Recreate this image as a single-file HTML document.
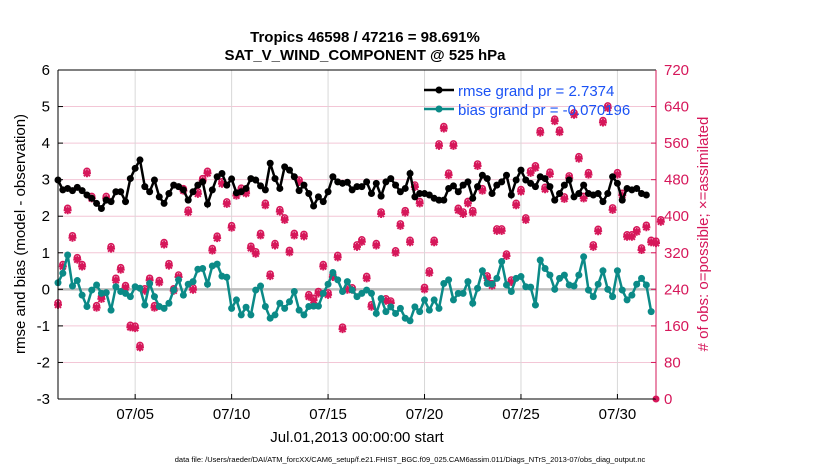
<!DOCTYPE html>
<html><head><meta charset="utf-8"><style>
body{margin:0;background:#fff;width:830px;height:470px;overflow:hidden}
svg text{font-family:"Liberation Sans",Arial,sans-serif}
</style></head><body>
<svg id="chart" width="830" height="470" xmlns="http://www.w3.org/2000/svg">
<g id="grid"></g>
<g id="series"></g>
<g id="axes"></g>
<text x="365" y="42" text-anchor="middle" font-size="15" font-weight="bold">Tropics 46598 / 47216 = 98.691%</text>
<text x="365" y="60" text-anchor="middle" font-size="15" font-weight="bold">SAT_V_WIND_COMPONENT @ 525 hPa</text>
<text transform="translate(25,234) rotate(-90)" text-anchor="middle" font-size="15">rmse and bias (model - observation)</text>
<text transform="translate(708,234) rotate(-90)" text-anchor="middle" font-size="15" fill="#d6175a"># of obs: o=possible; ×=assimilated</text>
<text x="357" y="442" text-anchor="middle" font-size="15">Jul.01,2013 00:00:00 start</text>
<text x="410" y="462" text-anchor="middle" font-size="7.5">data file: /Users/raeder/DAI/ATM_forcXX/CAM6_setup/f.e21.FHIST_BGC.f09_025.CAM6assim.011/Diags_NTrS_2013-07/obs_diag_output.nc</text>
<g>
<line x1="424" y1="90" x2="454" y2="90" stroke="#000" stroke-width="2.5"/><circle cx="439" cy="90" r="3.5" fill="#000"/>
<text x="458" y="96" font-size="15" fill="#1a52f5">rmse grand pr = 2.7374</text>
<line x1="424" y1="109" x2="454" y2="109" stroke="#0b8a87" stroke-width="2.5"/><circle cx="439" cy="109" r="3.5" fill="#0b8a87"/>
<text x="458" y="115" font-size="15" fill="#1a52f5">bias grand pr = -0.070196</text>
</g>
</svg>
<script>
const rmse=[2.99,2.72,2.76,2.70,2.79,2.70,2.58,2.49,2.35,2.21,2.44,2.40,2.67,2.67,2.40,3.03,3.31,3.54,2.81,2.67,2.99,2.53,2.35,2.62,2.85,2.81,2.72,2.44,2.67,2.85,2.94,2.33,2.72,3.08,3.17,2.85,3.02,2.64,2.67,2.76,3.03,2.99,2.83,2.72,3.45,3.03,2.76,3.35,3.26,3.08,2.70,2.85,2.62,2.28,2.53,2.40,2.67,3.08,2.94,2.90,2.93,2.72,2.81,2.81,
2.94,2.62,2.90,2.55,2.94,3.03,2.85,2.67,2.76,3.17,2.53,2.62,2.62,2.58,2.49,2.44,2.44,2.76,2.83,2.67,2.85,2.94,2.49,2.81,3.12,3.03,2.62,2.85,2.94,3.12,2.58,2.99,3.26,2.99,2.90,2.81,3.08,3.03,2.81,2.44,2.62,2.85,2.99,2.53,2.62,2.85,2.62,2.58,2.62,2.40,2.62,3.08,2.90,2.44,2.76,2.72,2.76,2.62,2.58];
const bias=[0.18,0.44,0.94,0.09,0.24,-0.16,-0.47,-0.02,0.12,-0.11,-0.09,-0.57,0.07,-0.06,-0.11,-0.20,0.07,0.03,-0.43,0.16,-0.20,-0.47,-0.52,-0.38,-0.02,0.26,-0.16,0.14,0.21,0.55,0.57,0.14,0.64,0.69,0.36,0.33,-0.52,-0.29,-0.70,-0.49,-0.70,-0.02,0.09,-0.47,-0.79,-0.70,-0.38,-0.52,-0.34,-0.06,-0.57,-0.70,-0.47,-0.46,-0.46,-0.11,0.14,0.46,0.26,-0.06,0.21,-0.02,-0.20,-0.11,
-0.02,-0.11,-0.66,-0.25,-0.61,-0.48,-0.66,-0.52,-0.79,-0.86,-0.48,-0.61,-0.29,-0.57,-0.29,-0.52,0.16,0.26,-0.29,-0.11,-0.11,0.21,-0.38,0.03,0.51,0.16,0.14,0.30,0.76,0.12,-0.06,0.30,0.35,0.07,0.06,-0.43,0.80,0.57,0.39,0.00,0.30,0.39,0.12,0.09,0.39,0.89,-0.02,-0.20,0.14,0.51,0.00,-0.20,0.51,-0.02,-0.29,-0.16,0.14,0.30,0.12,-0.61];
const obs=[206,290,413,353,305,290,494,439,200,219,439,329,260,283,244,157,155,113,237,260,200,255,338,292,237,267,456,409,239,449,478,494,325,352,471,427,375,445,457,450,330,318,358,424,269,336,410,392,321,358,475,356,224,216,231,290,228,267,310,153,239,239,333,344,
264,202,336,405,215,210,320,379,408,343,464,428,240,276,343,554,592,490,554,413,405,428,408,510,456,265,248,368,368,313,256,424,454,392,495,506,583,459,492,608,584,438,484,622,526,439,491,333,367,605,637,414,491,446,355,355,366,326,376,343,341,388];
const xTicks=['07/05','07/10','07/15','07/20','07/25','07/30'];
const xTickDays=[4,9,14,19,24,29];
const yTicks=[-3,-2,-1,0,1,2,3,4,5,6];
const rTicks=[0,80,160,240,320,400,480,560,640,720];

const L=58,R=656,T=70,B=399;
const X=d=>L+(d/31)*(R-L);
const Y=v=>B-(v+3)/9*(B-T);
const YR=v=>B-v/720*(B-T);
const NS='http://www.w3.org/2000/svg';
function mk(tag,attrs,parent){const e=document.createElementNS(NS,tag);for(const k in attrs)e.setAttribute(k,attrs[k]);parent.appendChild(e);return e;}
const grid=document.getElementById('grid'),ser=document.getElementById('series'),ax=document.getElementById('axes');
yTicks.forEach(v=>{const l=mk('line',{x1:L,x2:R,y1:Y(v),y2:Y(v),stroke:'#f3c6d6','stroke-width':1},grid);


const t=mk('text',{x:L-8,y:Y(v)+5,'text-anchor':'end','font-size':15},ax);t.textContent=v;


mk('line',{x1:L,x2:L+5,y1:Y(v),y2:Y(v),stroke:'#000'},ax);});
xTickDays.forEach((d,i)=>{const l=mk('line',{x1:X(d),x2:X(d),y1:T,y2:B,stroke:'#d8d8d8','stroke-width':1},grid);


mk('line',{x1:X(d),x2:X(d),y1:B,y2:B-5,stroke:'#000'},ax);
const t=mk('text',{x:X(d),y:B+20,'text-anchor':'middle','font-size':15},ax);t.textContent=xTicks[i];

});
rTicks.forEach(v=>{mk('line',{x1:R,x2:R-5,y1:YR(v),y2:YR(v),stroke:'#d6175a'},ax);
const t=mk('text',{x:R+8,y:YR(v)+5,'font-size':15,fill:'#d6175a'},ax);t.textContent=v;

});
const zl=mk('line',{x1:L,x2:R,y1:Y(0),y2:Y(0),stroke:'#bdbdbd','stroke-width':2.5},grid);


// obs markers
obs.forEach((v,i)=>{const x=X(i*0.25),y=YR(v);const g=mk('g',{},ser);


mk('circle',{cx:x,cy:y-2,r:3,fill:'none',stroke:'#d6175a','stroke-width':1.5},g);
mk('path',{d:`M${x-4} ${y}H${x+4}M${x} ${y-4}V${y+4}M${x-3} ${y-3}L${x+3} ${y+3}M${x-3} ${y+3}L${x+3} ${y-3}`,stroke:'#d6175a','stroke-width':2},g);});
const endm=mk('circle',{cx:R,cy:YR(0),r:3.5,fill:'#d6175a'},ser);


function line(arr,color,name){const p=mk('polyline',{points:arr.map((v,i)=>X(i*0.25)+','+Y(v)).join(' '),fill:'none',stroke:color,'stroke-width':2.5},ser);


arr.forEach((v,i)=>{const c=mk('circle',{cx:X(i*0.25),cy:Y(v),r:3.5,fill:color},ser);

});}
line(rmse,'#000','rmse');line(bias,'#0b8a87','bias');
mk('line',{x1:L,x2:R,y1:T,y2:T,stroke:'#000'},ax);
mk('line',{x1:L,x2:R,y1:B,y2:B,stroke:'#000'},ax);
mk('line',{x1:L,x2:L,y1:T,y2:B,stroke:'#000'},ax);
mk('line',{x1:R,x2:R,y1:T,y2:B,stroke:'#d6175a'},ax);
</script>
</body></html>
